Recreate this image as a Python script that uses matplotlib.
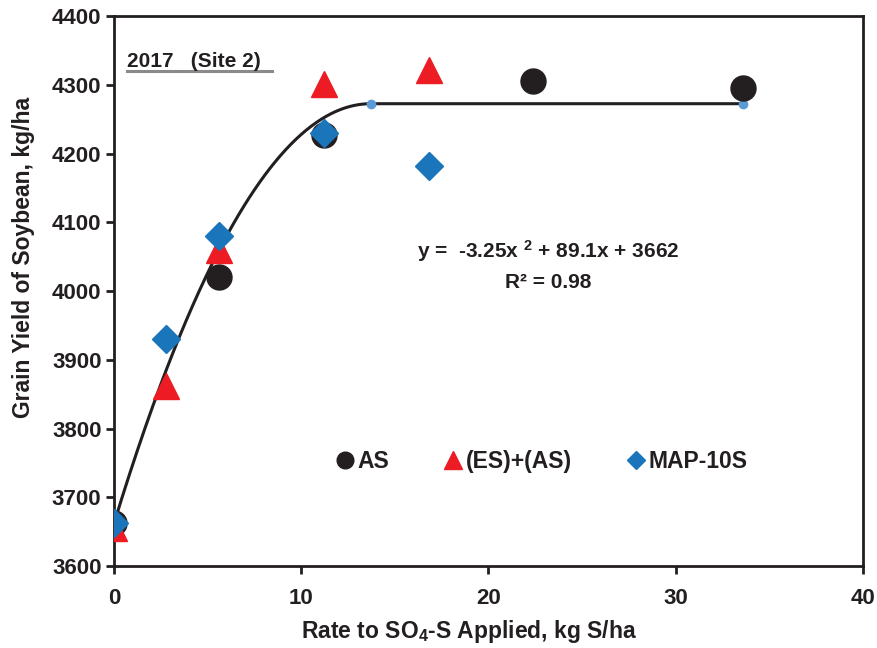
import numpy as np
import matplotlib
matplotlib.use("Agg")
import matplotlib.pyplot as plt

plt.rcParams['font.family'] = ['Liberation Sans', 'DejaVu Sans']
plt.rcParams['font.weight'] = 'bold'
plt.rcParams['mathtext.fontset'] = 'custom'
plt.rcParams['mathtext.rm'] = 'Liberation Sans:bold'
plt.rcParams['mathtext.bf'] = 'Liberation Sans:bold'
plt.rcParams['mathtext.default'] = 'bf'

# data
as_x = [0, 5.6, 11.2, 22.4, 33.6]
as_y = [3662, 4020, 4227, 4305, 4295]

es_x = [0, 2.8, 5.6, 11.2, 16.8]
es_y = [3655, 3862, 4060, 4302, 4322]

map_x = [0, 2.8, 5.6, 11.2, 16.8]
map_y = [3662, 3930, 4080, 4230, 4182]

# quadratic-plateau fit
a2, a1, a0 = -3.25, 89.1, 3662
x_max = 33.6

dark = '#231f20'
red = '#ed1c24'
blue = '#1b75bb'
lblue = '#5b9bd5'

fig = plt.figure(figsize=(8.77, 6.48), dpi=100)
ax = fig.add_axes([0.13, 0.1265, 0.854, 0.8485])

# fit line
xj = -a1 / (2 * a2)
yp = a0 + a1 * xj + a2 * xj ** 2
xc = np.linspace(0, xj, 200)
yc = a0 + a1 * xc + a2 * xc ** 2
ax.plot(np.append(xc, x_max), np.append(yc, yp), color=dark, lw=2.2, zorder=2)
ax.plot([xj, x_max], [yp, yp], 'o', color=lblue, ms=6, zorder=2)

ax.plot(as_x, as_y, 'o', color=dark, ms=18, ls='none', zorder=3)
ax.plot(es_x, es_y, '^', color=red, ms=19, ls='none', zorder=4)
ax.plot(map_x, map_y, 'D', color=blue, ms=14, ls='none', zorder=5)

ax.set_xlim(0, 40)
ax.set_ylim(3600, 4400)
ax.set_xticks([0, 10, 20, 30, 40])
ax.set_yticks(np.arange(3600, 4401, 100))
ax.tick_params(direction='out', length=6, width=2, labelsize=16, colors=dark)
ax.tick_params(axis='x', pad=10)
ax.tick_params(axis='y', pad=3)
for lab in ax.get_xticklabels() + ax.get_yticklabels():
    lab.set_fontweight('bold')
for sp in ax.spines.values():
    sp.set_linewidth(2)
    sp.set_color(dark)

ax.set_xlabel(r'Rate to SO$_4$-S Applied, kg S/ha', fontsize=16.5, fontweight='bold', color=dark, labelpad=6)
ax.set_ylabel('Grain Yield of Soybean, kg/ha', fontsize=16.5, fontweight='bold', color=dark, labelpad=12)
ax.xaxis.label.set_x(0.474)
ax.yaxis.label.set_y(0.562)

ax.text(0.017, 0.907, '2017   (Site 2)', transform=ax.transAxes, fontsize=15,
        fontweight='bold', color=dark, va='baseline', ha='left')
ax.plot([0.017, 0.211], [0.9, 0.9], transform=ax.transAxes, color='#8a8a8a', lw=2.2)

ax.text(23.2, 4058, 'y =  -3.25x $^{2}$ + 89.1x + 3662', fontsize=15, fontweight='bold',
        color=dark, ha='center', va='center')
ax.text(23.2, 4013, 'R² = 0.98', fontsize=15, fontweight='bold',
        color=dark, ha='center', va='center')

h1, = ax.plot([], [], 'o', color=dark, ms=12)
h2, = ax.plot([], [], '^', color=red, ms=13)
h3, = ax.plot([], [], 'D', color=blue, ms=9)
leg = ax.legend([h1, h2, h3], ['AS', '(ES)+(AS)', 'MAP-10S'], ncol=3, frameon=False,
                loc='center', bbox_to_anchor=(0.571, 0.19), fontsize=16.5,
                handletextpad=0.15, columnspacing=2.4, handlelength=0.8)
for t in leg.get_texts():
    t.set_fontweight('bold')
    t.set_color(dark)

fig.savefig('out.png', dpi=100)
